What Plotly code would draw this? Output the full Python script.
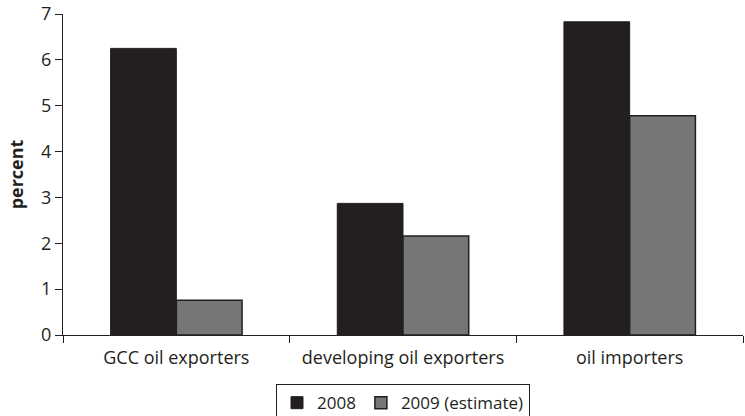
import plotly.graph_objects as go

categories = ["GCC oil exporters", "developing oil exporters", "oil importers"]
values_2008 = [6.25, 2.87, 6.83]
values_2009 = [0.76, 2.16, 4.78]
series_names = ["2008", "2009 (estimate)"]

dark = "#231f20"
grey = "#767679"

fig = go.Figure()
fig.add_trace(go.Bar(x=categories, y=values_2008, name=series_names[0],
                     marker=dict(color=dark, line=dict(color=dark, width=1))))
fig.add_trace(go.Bar(x=categories, y=values_2009, name=series_names[1],
                     marker=dict(color=grey, line=dict(color=dark, width=1.5))))

font_family = "'Open Sans', Lato, sans-serif"
fig.update_layout(
    width=745, height=416,
    margin=dict(l=63, r=2, t=14, b=81, autoexpand=False),
    paper_bgcolor="white", plot_bgcolor="white",
    font=dict(family=font_family, size=17, color=dark),
    barmode="group", bargap=0.42, bargroupgap=0,
    showlegend=True,
    legend=dict(orientation="h", x=0.5, xanchor="center", y=-0.153, yanchor="top",
                bordercolor=dark, borderwidth=1, font=dict(size=17),
                itemwidth=30, traceorder="normal"),
    xaxis=dict(showline=True, linecolor=dark, linewidth=1, ticks="outside",
               tickson="boundaries", ticklen=7, tickcolor=dark, tickwidth=1,
               showgrid=False, tickfont=dict(size=18), ticklabelstandoff=6),
    yaxis=dict(range=[0, 7], dtick=1, showline=True, linecolor=dark, linewidth=1,
               ticks="outside", ticklen=7, tickcolor=dark, showgrid=False,
               zeroline=False, tickfont=dict(size=18),
               title=dict(text="<b>percent</b>", font=dict(size=18), standoff=12)),
)

fig.write_html("out.html", config={"displayModeBar": False},
               post_script="document.body.style.margin='0px';")
